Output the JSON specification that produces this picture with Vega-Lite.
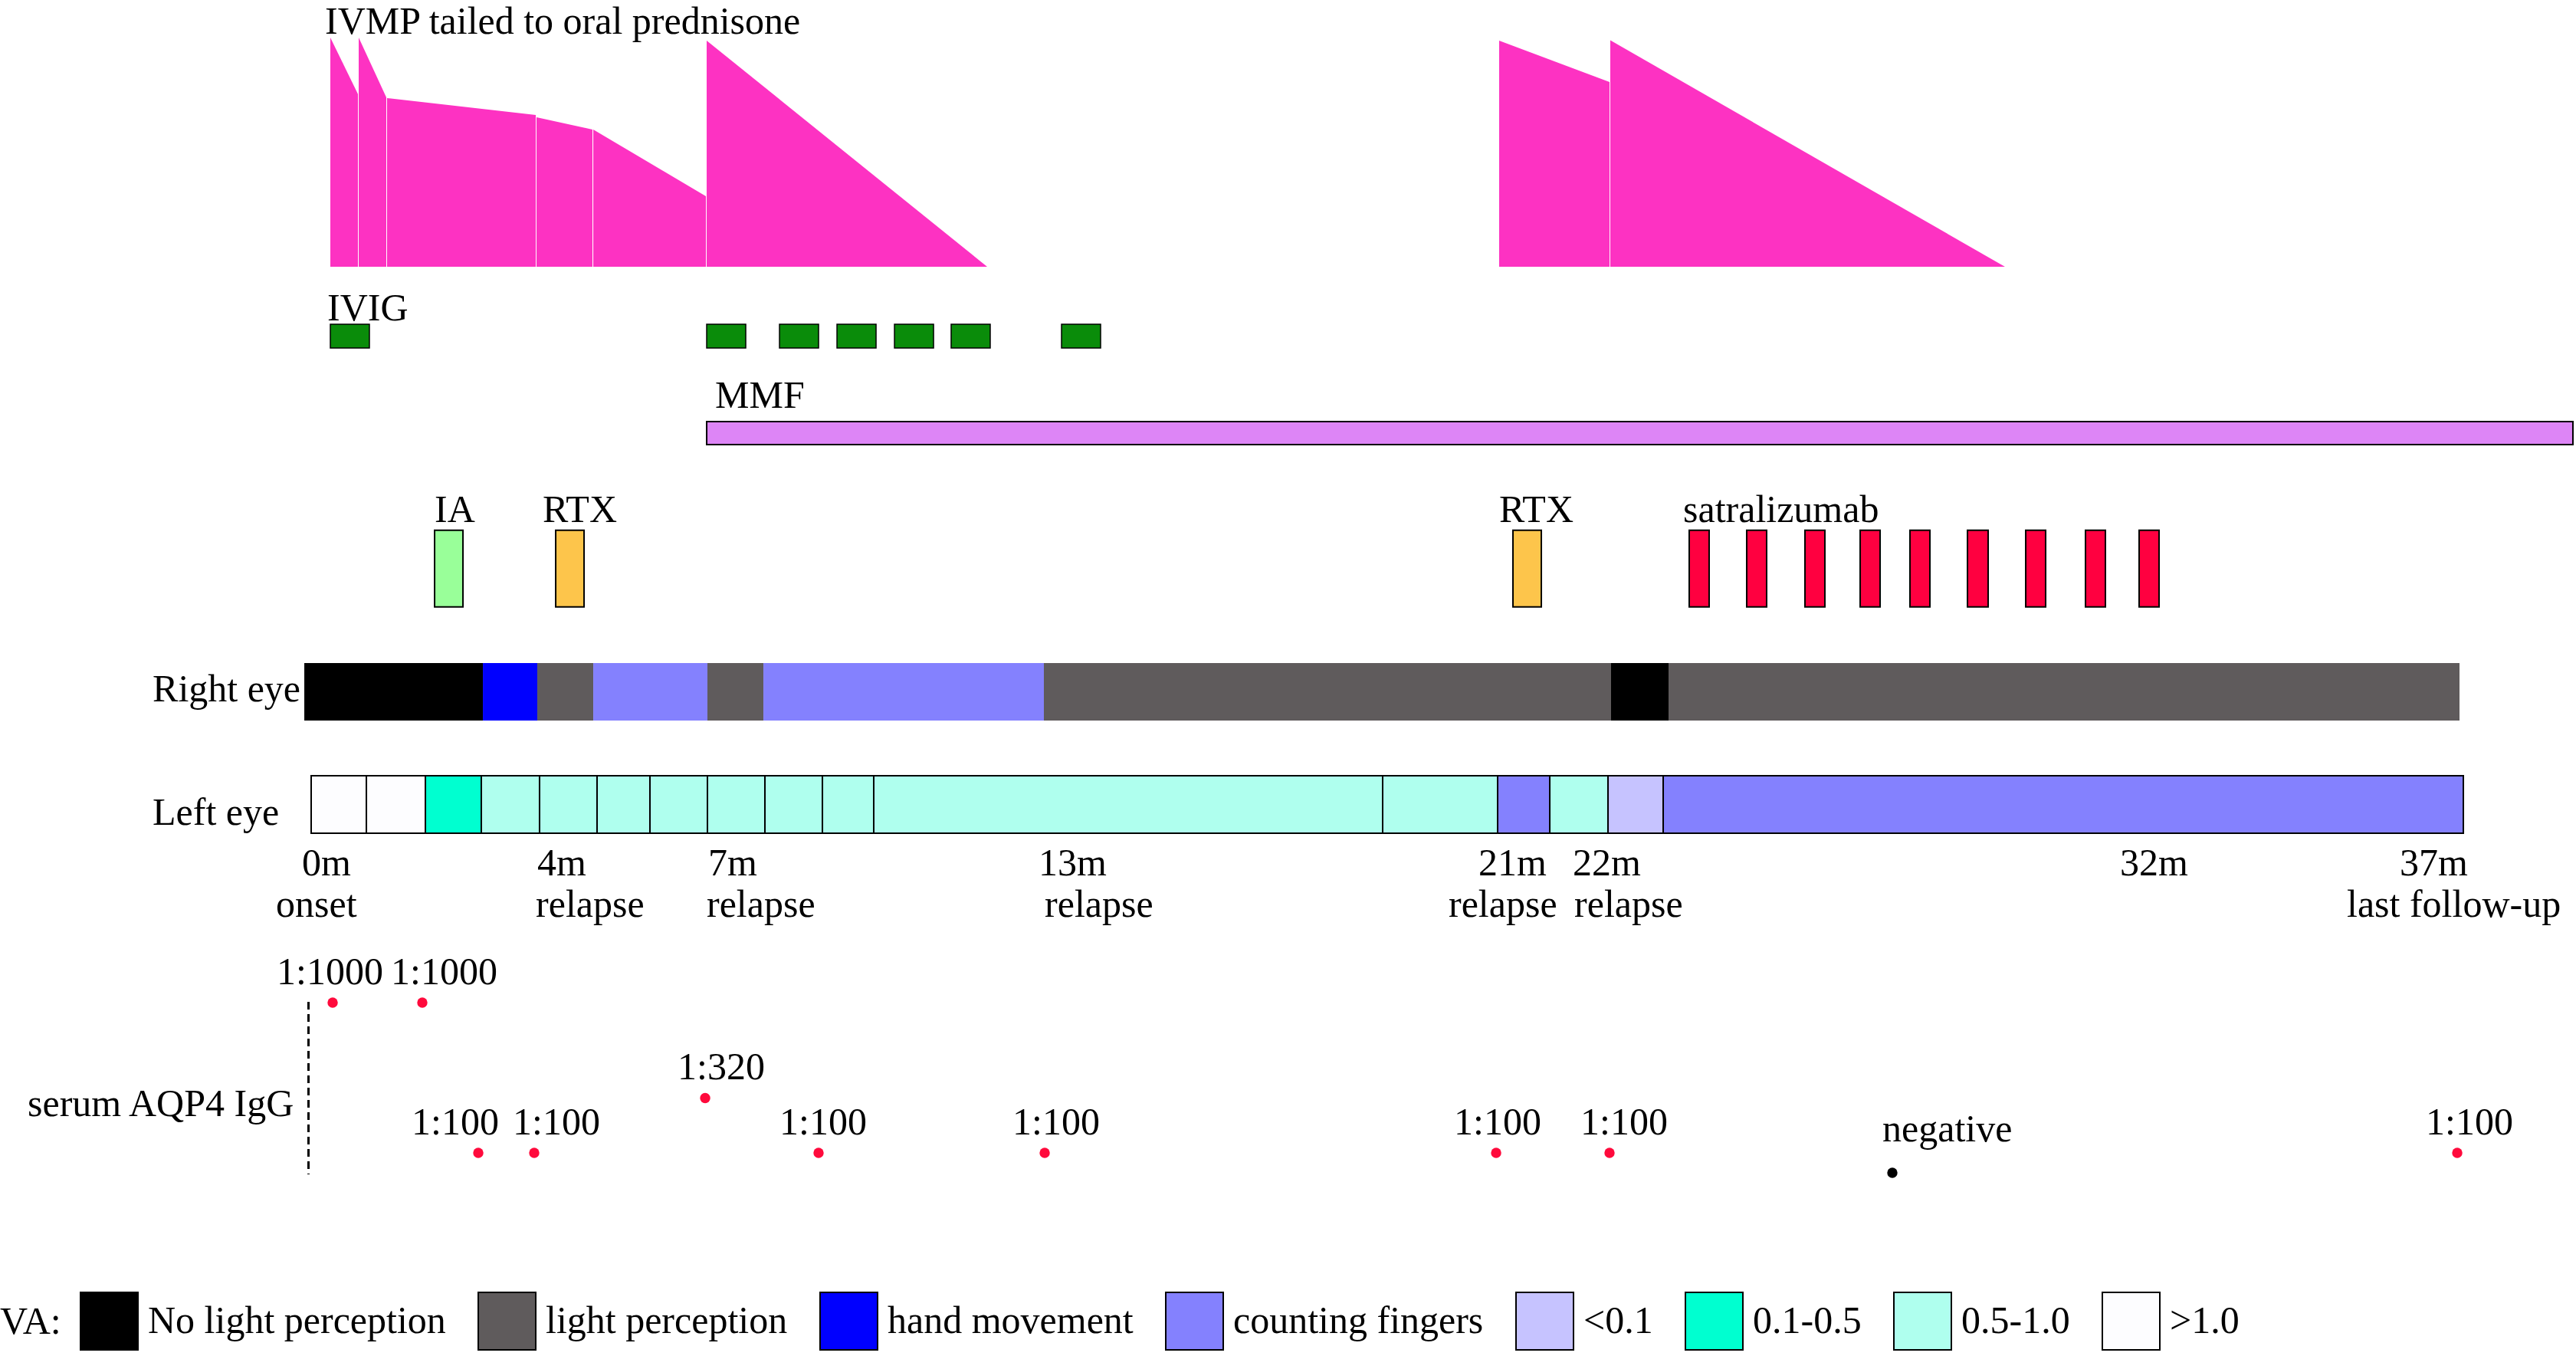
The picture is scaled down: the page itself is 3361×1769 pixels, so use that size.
{
  "$schema": "https://vega.github.io/schema/vega-lite/v6.json",
  "width": 3361,
  "height": 1769,
  "padding": 0,
  "autosize": {"type": "none"},
  "background": "white",
  "config": {"view": {"stroke": null}, "text": {"font": "Liberation Serif", "fontSize": 50, "color": "#000000"}},
  "datasets": {
    "steroid": [
      {"seg": 1, "month": 0.447, "dose": 100}, {"seg": 1, "month": 0.921, "dose": 75.3},
      {"seg": 2, "month": 0.934, "dose": 100}, {"seg": 2, "month": 1.408, "dose": 73.9},
      {"seg": 3, "month": 1.421, "dose": 73.6}, {"seg": 3, "month": 3.974, "dose": 66.2},
      {"seg": 4, "month": 3.987, "dose": 65.2}, {"seg": 4, "month": 4.947, "dose": 59.9},
      {"seg": 5, "month": 4.961, "dose": 59.9}, {"seg": 5, "month": 6.895, "dose": 30.8},
      {"seg": 6, "month": 6.908, "dose": 98.7}, {"seg": 6, "month": 11.724, "dose": 0},
      {"seg": 7, "month": 20.513, "dose": 98.7}, {"seg": 7, "month": 22.408, "dose": 80.6},
      {"seg": 8, "month": 22.421, "dose": 98.8}, {"seg": 8, "month": 29.197, "dose": 0}
    ],
    "ivig": [
      {"start": 0.447, "end": 1.118}, {"start": 6.908, "end": 7.579}, {"start": 8.158, "end": 8.829},
      {"start": 9.145, "end": 9.816}, {"start": 10.132, "end": 10.803}, {"start": 11.105, "end": 11.776},
      {"start": 13.0, "end": 13.671}
    ],
    "mmf": [{"start": 6.908, "end": 38.947}],
    "infusions": [
      {"drug": "IA", "start": 2.237, "end": 2.724},
      {"drug": "RTX", "start": 4.316, "end": 4.803},
      {"drug": "RTX", "start": 20.75, "end": 21.237},
      {"drug": "satralizumab", "start": 23.776, "end": 24.118},
      {"drug": "satralizumab", "start": 24.763, "end": 25.105},
      {"drug": "satralizumab", "start": 25.763, "end": 26.105},
      {"drug": "satralizumab", "start": 26.711, "end": 27.053},
      {"drug": "satralizumab", "start": 27.566, "end": 27.908},
      {"drug": "satralizumab", "start": 28.553, "end": 28.908},
      {"drug": "satralizumab", "start": 29.553, "end": 29.895},
      {"drug": "satralizumab", "start": 30.579, "end": 30.921},
      {"drug": "satralizumab", "start": 31.5, "end": 31.842}
    ],
    "eyes": [
      {"eye": "Right", "start": 0, "end": 3.066, "va": "No light perception"},
      {"eye": "Right", "start": 3.066, "end": 4.0, "va": "hand movement"},
      {"eye": "Right", "start": 4.0, "end": 4.961, "va": "light perception"},
      {"eye": "Right", "start": 4.961, "end": 6.921, "va": "counting fingers"},
      {"eye": "Right", "start": 6.921, "end": 7.882, "va": "light perception"},
      {"eye": "Right", "start": 7.882, "end": 12.697, "va": "counting fingers"},
      {"eye": "Right", "start": 12.697, "end": 22.434, "va": "light perception"},
      {"eye": "Right", "start": 22.434, "end": 23.421, "va": "No light perception"},
      {"eye": "Right", "start": 23.421, "end": 37.0, "va": "light perception"},
      {"eye": "Left", "start": 0.118, "end": 1.066, "va": ">1.0"},
      {"eye": "Left", "start": 1.066, "end": 2.079, "va": ">1.0"},
      {"eye": "Left", "start": 2.079, "end": 3.039, "va": "0.1-0.5"},
      {"eye": "Left", "start": 3.039, "end": 4.039, "va": "0.5-1.0"},
      {"eye": "Left", "start": 4.039, "end": 5.026, "va": "0.5-1.0"},
      {"eye": "Left", "start": 5.026, "end": 5.934, "va": "0.5-1.0"},
      {"eye": "Left", "start": 5.934, "end": 6.921, "va": "0.5-1.0"},
      {"eye": "Left", "start": 6.921, "end": 7.908, "va": "0.5-1.0"},
      {"eye": "Left", "start": 7.908, "end": 8.895, "va": "0.5-1.0"},
      {"eye": "Left", "start": 8.895, "end": 9.776, "va": "0.5-1.0"},
      {"eye": "Left", "start": 9.776, "end": 18.513, "va": "0.5-1.0"},
      {"eye": "Left", "start": 18.513, "end": 20.487, "va": "0.5-1.0"},
      {"eye": "Left", "start": 20.487, "end": 21.382, "va": "counting fingers"},
      {"eye": "Left", "start": 21.382, "end": 22.382, "va": "0.5-1.0"},
      {"eye": "Left", "start": 22.382, "end": 23.329, "va": "<0.1"},
      {"eye": "Left", "start": 23.329, "end": 37.066, "va": "counting fingers"}
    ],
    "labels": [
      {"track": "steroid", "month": 0.355, "text": "IVMP tailed to oral prednisone"},
      {"track": "ivig", "month": 0.395, "text": "IVIG"},
      {"track": "mmf", "month": 7.053, "text": "MMF"},
      {"track": "single", "month": 2.237, "text": "IA"},
      {"track": "single", "month": 4.092, "text": "RTX"},
      {"track": "single", "month": 20.513, "text": "RTX"},
      {"track": "single", "month": 23.671, "text": "satralizumab"},
      {"track": "right", "month": -2.605, "text": "Right eye"},
      {"track": "left", "month": -2.605, "text": "Left eye"},
      {"track": "time1", "month": -0.039, "text": "0m"},
      {"track": "time1", "month": 4.0, "text": "4m"},
      {"track": "time1", "month": 6.934, "text": "7m"},
      {"track": "time1", "month": 12.605, "text": "13m"},
      {"track": "time1", "month": 20.158, "text": "21m"},
      {"track": "time1", "month": 21.776, "text": "22m"},
      {"track": "time1", "month": 31.171, "text": "32m"},
      {"track": "time1", "month": 35.974, "text": "37m"},
      {"track": "time2", "month": -0.487, "text": "onset"},
      {"track": "time2", "month": 3.974, "text": "relapse"},
      {"track": "time2", "month": 6.908, "text": "relapse"},
      {"track": "time2", "month": 12.711, "text": "relapse"},
      {"track": "time2", "month": 19.645, "text": "relapse"},
      {"track": "time2", "month": 21.803, "text": "relapse"},
      {"track": "time2", "month": 35.066, "text": "last follow-up"},
      {"track": "aqp4", "month": -4.75, "text": "serum AQP4 IgG"},
      {"track": "negative", "month": 27.092, "text": "negative"}
    ],
    "aqp4": [
      {"month": 0.487, "titer": 1000, "label": "1:1000", "label_month": -0.474},
      {"month": 2.026, "titer": 1000, "label": "1:1000", "label_month": 1.487},
      {"month": 2.987, "titer": 100, "label": "1:100", "label_month": 1.842},
      {"month": 3.947, "titer": 100, "label": "1:100", "label_month": 3.579},
      {"month": 6.882, "titer": 320, "label": "1:320", "label_month": 6.408},
      {"month": 8.829, "titer": 100, "label": "1:100", "label_month": 8.158},
      {"month": 12.711, "titer": 100, "label": "1:100", "label_month": 12.158},
      {"month": 20.461, "titer": 100, "label": "1:100", "label_month": 19.737},
      {"month": 22.408, "titer": 100, "label": "1:100", "label_month": 21.908},
      {"month": 27.263, "titer": null, "label": "negative", "label_month": 27.092},
      {"month": 36.961, "titer": 100, "label": "1:100", "label_month": 36.421}
    ]
  },
  "resolve": {"scale": {"y": "independent"}},
  "layer": [
    {
      "data": {"name": "steroid"},
      "mark": {"type": "area", "color": "#FD32C2", "interpolate": "linear"},
      "encoding": {
        "x": {"field": "month", "type": "quantitative", "scale": {"domain": [-5.224, 39.0], "nice": false, "zero": false}, "axis": null},
        "y": {"field": "dose", "type": "quantitative", "scale": {"domain": [0, 100], "range": [348, 49], "nice": false, "zero": false}, "axis": null},
        "y2": {"datum": 0},
        "detail": {"field": "seg", "type": "nominal"}
      }
    },
    {
      "data": {"name": "ivig"},
      "mark": {"type": "rect", "color": "#0A8C0A", "stroke": "#000000", "strokeWidth": 1.5},
      "encoding": {
        "x": {"field": "start", "type": "quantitative", "scale": {"domain": [-5.224, 39.0], "nice": false, "zero": false}, "axis": null},
        "x2": {"field": "end"},
        "y": {"datum": 23.91, "type": "quantitative", "scale": {"domain": [0, 100], "reverse": true, "nice": false, "zero": false}, "axis": null},
        "y2": {"datum": 25.66}
      }
    },
    {
      "data": {"name": "mmf"},
      "mark": {"type": "rect", "color": "#DD85F6", "stroke": "#000000", "strokeWidth": 2},
      "encoding": {
        "x": {"field": "start", "type": "quantitative", "scale": {"domain": [-5.224, 39.0], "nice": false, "zero": false}, "axis": null},
        "x2": {"field": "end"},
        "y": {"datum": 31.09, "type": "quantitative", "scale": {"domain": [0, 100], "reverse": true, "nice": false, "zero": false}, "axis": null},
        "y2": {"datum": 32.79}
      }
    },
    {
      "data": {"name": "infusions"},
      "transform": [{"filter": "datum.drug === 'IA'"}],
      "mark": {"type": "rect", "color": "#99FF99", "stroke": "#000000", "strokeWidth": 2},
      "encoding": {
        "x": {"field": "start", "type": "quantitative", "scale": {"domain": [-5.224, 39.0], "nice": false, "zero": false}, "axis": null},
        "x2": {"field": "end"},
        "y": {"datum": 39.1, "type": "quantitative", "scale": {"domain": [0, 100], "reverse": true, "nice": false, "zero": false}, "axis": null},
        "y2": {"datum": 44.75}
      }
    },
    {
      "data": {"name": "infusions"},
      "transform": [{"filter": "datum.drug === 'RTX'"}],
      "mark": {"type": "rect", "color": "#FDC54B", "stroke": "#000000", "strokeWidth": 2},
      "encoding": {
        "x": {"field": "start", "type": "quantitative", "scale": {"domain": [-5.224, 39.0], "nice": false, "zero": false}, "axis": null},
        "x2": {"field": "end"},
        "y": {"datum": 39.1, "type": "quantitative", "scale": {"domain": [0, 100], "reverse": true, "nice": false, "zero": false}, "axis": null},
        "y2": {"datum": 44.75}
      }
    },
    {
      "data": {"name": "infusions"},
      "transform": [{"filter": "datum.drug === 'satralizumab'"}],
      "mark": {"type": "rect", "color": "#FF0040", "stroke": "#000000", "strokeWidth": 2},
      "encoding": {
        "x": {"field": "start", "type": "quantitative", "scale": {"domain": [-5.224, 39.0], "nice": false, "zero": false}, "axis": null},
        "x2": {"field": "end"},
        "y": {"datum": 39.1, "type": "quantitative", "scale": {"domain": [0, 100], "reverse": true, "nice": false, "zero": false}, "axis": null},
        "y2": {"datum": 44.75}
      }
    },
    {
      "data": {"name": "eyes"},
      "transform": [{"filter": "datum.eye === 'Right'"}],
      "mark": {"type": "rect", "strokeWidth": 0},
      "encoding": {
        "x": {"field": "start", "type": "quantitative", "scale": {"domain": [-5.224, 39.0], "nice": false, "zero": false}, "axis": null},
        "x2": {"field": "end"},
        "y": {"datum": 48.9, "type": "quantitative", "scale": {"domain": [0, 100], "reverse": true, "nice": false, "zero": false}, "axis": null},
        "y2": {"datum": 53.14},
        "color": {
          "field": "va", "type": "nominal",
          "scale": {
            "domain": ["No light perception", "light perception", "hand movement", "counting fingers", "<0.1", "0.1-0.5", "0.5-1.0", ">1.0"],
            "range": ["#000000", "#5F5B5C", "#0000FF", "#8481FE", "#C6C3FF", "#00FFD0", "#AFFFEE", "#FDFDFF"]
          },
          "legend": {
            "title": "VA:", "orient": "none", "legendX": 0, "legendY": 1685, "direction": "horizontal", "columns": 8,
            "titleOrient": "left", "titleAngle": 0, "titleFont": "Liberation Serif", "titleFontSize": 50, "titleFontWeight": "normal", "titleColor": "#000000", "titlePadding": 24, "titleBaseline": "middle",
            "labelFont": "Liberation Serif", "labelFontSize": 50, "labelColor": "#000000", "labelOffset": 12, "labelLimit": 1000,
            "symbolType": "square", "symbolSize": 5625, "symbolStrokeColor": "#000000", "symbolStrokeWidth": 2, "symbolOpacity": 1,
            "columnPadding": 38, "rowPadding": 0, "padding": 0
          }
        }
      }
    },
    {
      "data": {"name": "eyes"},
      "transform": [{"filter": "datum.eye === 'Left'"}],
      "mark": {"type": "rect", "stroke": "#000000", "strokeWidth": 2},
      "encoding": {
        "x": {"field": "start", "type": "quantitative", "scale": {"domain": [-5.224, 39.0], "nice": false, "zero": false}, "axis": null},
        "x2": {"field": "end"},
        "y": {"datum": 57.21, "type": "quantitative", "scale": {"domain": [0, 100], "reverse": true, "nice": false, "zero": false}, "axis": null},
        "y2": {"datum": 61.45},
        "color": {"field": "va", "type": "nominal"}
      }
    },
    {
      "data": {"name": "labels"},
      "transform": [{"filter": "datum.track === 'steroid'"}],
      "mark": {"type": "text", "align": "left", "baseline": "alphabetic"},
      "encoding": {
        "x": {"field": "month", "type": "quantitative", "scale": {"domain": [-5.224, 39.0], "nice": false, "zero": false}, "axis": null},
        "y": {"datum": 2.5, "type": "quantitative", "scale": {"domain": [0, 100], "reverse": true, "nice": false, "zero": false}, "axis": null},
        "text": {"field": "text"}
      }
    },
    {
      "data": {"name": "labels"},
      "transform": [{"filter": "datum.track === 'ivig'"}],
      "mark": {"type": "text", "align": "left", "baseline": "alphabetic"},
      "encoding": {
        "x": {"field": "month", "type": "quantitative", "scale": {"domain": [-5.224, 39.0], "nice": false, "zero": false}, "axis": null},
        "y": {"datum": 23.63, "type": "quantitative", "scale": {"domain": [0, 100], "reverse": true, "nice": false, "zero": false}, "axis": null},
        "text": {"field": "text"}
      }
    },
    {
      "data": {"name": "labels"},
      "transform": [{"filter": "datum.track === 'mmf'"}],
      "mark": {"type": "text", "align": "left", "baseline": "alphabetic"},
      "encoding": {
        "x": {"field": "month", "type": "quantitative", "scale": {"domain": [-5.224, 39.0], "nice": false, "zero": false}, "axis": null},
        "y": {"datum": 30.07, "type": "quantitative", "scale": {"domain": [0, 100], "reverse": true, "nice": false, "zero": false}, "axis": null},
        "text": {"field": "text"}
      }
    },
    {
      "data": {"name": "labels"},
      "transform": [{"filter": "datum.track === 'single'"}],
      "mark": {"type": "text", "align": "left", "baseline": "alphabetic"},
      "encoding": {
        "x": {"field": "month", "type": "quantitative", "scale": {"domain": [-5.224, 39.0], "nice": false, "zero": false}, "axis": null},
        "y": {"datum": 38.5, "type": "quantitative", "scale": {"domain": [0, 100], "reverse": true, "nice": false, "zero": false}, "axis": null},
        "text": {"field": "text"}
      }
    },
    {
      "data": {"name": "labels"},
      "transform": [{"filter": "datum.track === 'right'"}],
      "mark": {"type": "text", "align": "left", "baseline": "alphabetic"},
      "encoding": {
        "x": {"field": "month", "type": "quantitative", "scale": {"domain": [-5.224, 39.0], "nice": false, "zero": false}, "axis": null},
        "y": {"datum": 51.72, "type": "quantitative", "scale": {"domain": [0, 100], "reverse": true, "nice": false, "zero": false}, "axis": null},
        "text": {"field": "text"}
      }
    },
    {
      "data": {"name": "labels"},
      "transform": [{"filter": "datum.track === 'left'"}],
      "mark": {"type": "text", "align": "left", "baseline": "alphabetic"},
      "encoding": {
        "x": {"field": "month", "type": "quantitative", "scale": {"domain": [-5.224, 39.0], "nice": false, "zero": false}, "axis": null},
        "y": {"datum": 60.82, "type": "quantitative", "scale": {"domain": [0, 100], "reverse": true, "nice": false, "zero": false}, "axis": null},
        "text": {"field": "text"}
      }
    },
    {
      "data": {"name": "labels"},
      "transform": [{"filter": "datum.track === 'time1'"}],
      "mark": {"type": "text", "align": "left", "baseline": "alphabetic"},
      "encoding": {
        "x": {"field": "month", "type": "quantitative", "scale": {"domain": [-5.224, 39.0], "nice": false, "zero": false}, "axis": null},
        "y": {"datum": 64.56, "type": "quantitative", "scale": {"domain": [0, 100], "reverse": true, "nice": false, "zero": false}, "axis": null},
        "text": {"field": "text"}
      }
    },
    {
      "data": {"name": "labels"},
      "transform": [{"filter": "datum.track === 'time2'"}],
      "mark": {"type": "text", "align": "left", "baseline": "alphabetic"},
      "encoding": {
        "x": {"field": "month", "type": "quantitative", "scale": {"domain": [-5.224, 39.0], "nice": false, "zero": false}, "axis": null},
        "y": {"datum": 67.61, "type": "quantitative", "scale": {"domain": [0, 100], "reverse": true, "nice": false, "zero": false}, "axis": null},
        "text": {"field": "text"}
      }
    },
    {
      "data": {"name": "labels"},
      "transform": [{"filter": "datum.track === 'aqp4'"}],
      "mark": {"type": "text", "align": "left", "baseline": "alphabetic"},
      "encoding": {
        "x": {"field": "month", "type": "quantitative", "scale": {"domain": [-5.224, 39.0], "nice": false, "zero": false}, "axis": null},
        "y": {"datum": 82.31, "type": "quantitative", "scale": {"domain": [0, 100], "reverse": true, "nice": false, "zero": false}, "axis": null},
        "text": {"field": "text"}
      }
    },
    {
      "data": {"name": "labels"},
      "transform": [{"filter": "datum.track === 'negative'"}],
      "mark": {"type": "text", "align": "left", "baseline": "alphabetic"},
      "encoding": {
        "x": {"field": "month", "type": "quantitative", "scale": {"domain": [-5.224, 39.0], "nice": false, "zero": false}, "axis": null},
        "y": {"datum": 84.17, "type": "quantitative", "scale": {"domain": [0, 100], "reverse": true, "nice": false, "zero": false}, "axis": null},
        "text": {"field": "text"}
      }
    },
    {
      "data": {"name": "aqp4"},
      "mark": {"type": "rule", "strokeDash": [10, 6], "strokeWidth": 2, "color": "#000000"},
      "encoding": {
        "x": {"datum": 0.07, "type": "quantitative", "scale": {"domain": [-5.224, 39.0], "nice": false, "zero": false}, "axis": null},
        "y": {"datum": 73.88, "type": "quantitative", "scale": {"domain": [0, 100], "reverse": true, "nice": false, "zero": false}, "axis": null},
        "y2": {"datum": 86.6}
      }
    },
    {
      "data": {"name": "aqp4"},
      "transform": [{"filter": "datum.titer > 0"}],
      "mark": {"type": "circle", "size": 180, "color": "#FF0A3C", "opacity": 1},
      "encoding": {
        "x": {"field": "month", "type": "quantitative", "scale": {"domain": [-5.224, 39.0], "nice": false, "zero": false}, "axis": null},
        "y": {"field": "titer", "type": "quantitative", "scale": {"type": "sqrt", "domain": [100, 1000], "range": [1504, 1308], "nice": false, "zero": false}, "axis": null}
      }
    },
    {
      "data": {"name": "aqp4"},
      "transform": [{"filter": "datum.titer > 0"}],
      "mark": {"type": "text", "align": "left", "baseline": "alphabetic", "dy": -24},
      "encoding": {
        "x": {"field": "label_month", "type": "quantitative", "scale": {"domain": [-5.224, 39.0], "nice": false, "zero": false}, "axis": null},
        "y": {"field": "titer", "type": "quantitative", "scale": {"type": "sqrt", "domain": [100, 1000], "range": [1504, 1308], "nice": false, "zero": false}, "axis": null},
        "text": {"field": "label"}
      }
    },
    {
      "data": {"name": "aqp4"},
      "transform": [{"filter": "datum.titer === null"}],
      "mark": {"type": "circle", "size": 180, "color": "#000000", "opacity": 1},
      "encoding": {
        "x": {"field": "month", "type": "quantitative", "scale": {"domain": [-5.224, 39.0], "nice": false, "zero": false}, "axis": null},
        "y": {"datum": 86.49, "type": "quantitative", "scale": {"domain": [0, 100], "reverse": true, "nice": false, "zero": false}, "axis": null}
      }
    }
  ]
}
